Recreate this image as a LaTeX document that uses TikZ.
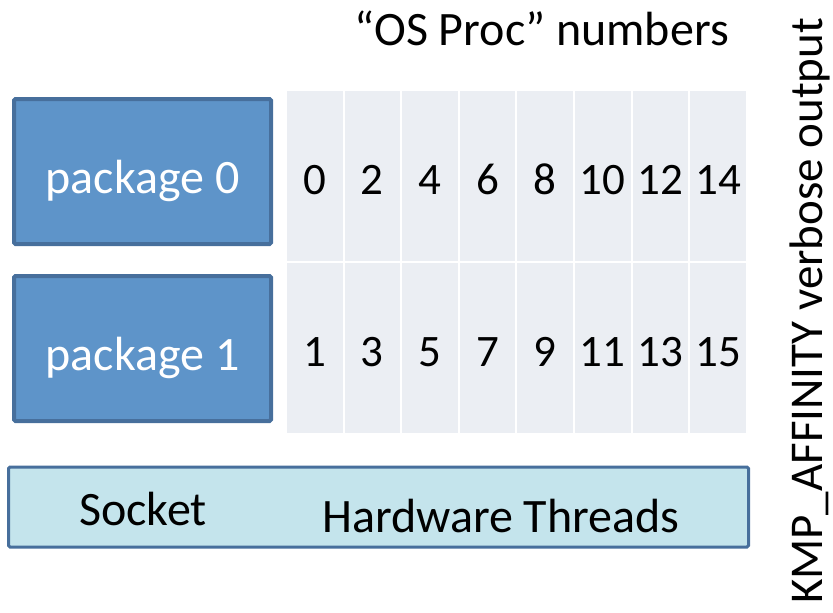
\documentclass[tikz,border=0pt]{standalone}
\usepackage{fontspec}
\setmainfont{Carlito}
\definecolor{pkgfill}{RGB}{94,148,201}
\definecolor{pkgline}{RGB}{71,111,156}
\definecolor{cellfill}{RGB}{235,238,243}
\definecolor{barfill}{RGB}{196,228,236}
\begin{document}
\begin{tikzpicture}[x=1pt,y=-1pt,
  pkgbox/.style={draw=pkgline,line width=4pt,fill=pkgfill,rounded corners=1.5pt,
    minimum width=257pt,minimum height=145pt,inner sep=0pt,text=white,
    text height=43pt,text depth=0pt,font=\fontsize{48}{54}\selectfont},
  cellbox/.style={fill=cellfill,minimum width=55.6pt,minimum height=170pt,inner sep=0pt,
    text height=37pt,text depth=0pt,font=\fontsize{45}{50}\selectfont},
  barbox/.style={draw=pkgline,line width=3pt,fill=barfill,rounded corners=1.5pt,
    minimum width=740pt,minimum height=80pt,inner sep=0pt},
  lbl/.style={inner sep=0pt,font=\fontsize{48}{54}\selectfont}]
\useasboundingbox (0,0) rectangle (833,613);
% package boxes
\node[pkgbox] (p0) at (142.5,171.5) {package 0};
\node[pkgbox] (p1) at (142.5,348.5) {package 1};
% OS proc number grid: even numbers on top row, odd on bottom row
\foreach \i in {0,...,7}{
  \pgfmathtruncatemacro{\ev}{2*\i}
  \pgfmathtruncatemacro{\od}{2*\i+1}
  \node[cellbox] (c\ev) at (287+27.8+\i*57.6,176) {\ev};
  \node[cellbox] (c\od) at (287+27.8+\i*57.6,348) {\od};
}
% socket bar
\node[barbox] (bar) at (378.5,507) {};
\node[lbl,anchor=base west] (sock) at (79,525) {Socket};
\node[lbl,anchor=base west] (hw) at (322,532) {Hardware Threads};
% headings
\node[lbl,anchor=base east] (os) at (729,45) {“OS Proc” numbers};
\node[lbl,rotate=90,anchor=base,font=\fontsize{47}{52}\selectfont] (kmp) at (822,311) {KMP\_AFFINITY verbose output};
\end{tikzpicture}
\end{document}
